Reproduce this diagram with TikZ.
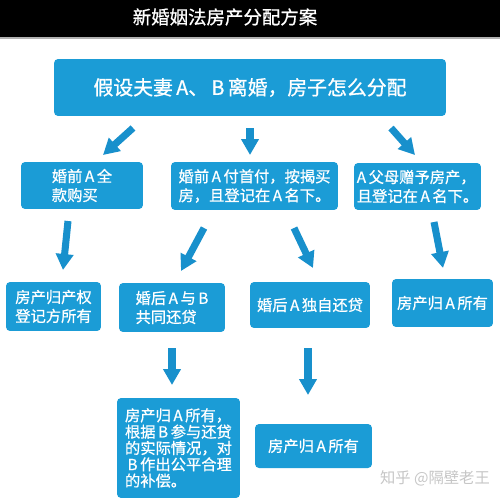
\documentclass[tikz,border=0pt]{standalone}
\usepackage{fontspec}
\newfontfamily\cjk{Noto Sans CJK SC}
\newfontfamily\cjkb[FakeBold=0.8]{Noto Sans CJK SC}
\usetikzlibrary{arrows.meta}
\definecolor{boxblue}{RGB}{27,156,214}
\definecolor{arrblue}{RGB}{24,144,204}
\begin{document}
\begin{tikzpicture}[x=0.02cm,y=-0.02cm,
 box/.style={fill=boxblue, rounded corners=2.3pt, text=white, font=\cjkb\fontsize{8.7}{10.8}\selectfont, inner sep=0pt, align=left},
 arr/.style={draw=arrblue, line width=4pt, -{Triangle[length=0.32cm,width=0.34cm]}}]
\useasboundingbox (0,0) rectangle (500,500);
\fill[white] (0,0) rectangle (500,500);
\fill[black] (0,0) rectangle (500,37);
\draw[gray!60, line width=0.6pt] (0,38) -- (500,38);
\node[text=white, font=\cjkb\fontsize{10.5}{12}\selectfont] (title) at (225,17) {新婚姻法房产分配方案};

\node[box, font=\cjkb\fontsize{11.3}{13}\selectfont, minimum width=7.84cm, minimum height=1.14cm] (main) at (250,87.5) {假设夫妻\,A、\,B\,离婚，房子怎么分配};

\node[box, minimum width=2.44cm, minimum height=0.94cm] (b1) at (82,185.5) {婚前\,A\,全\\款购买};
\node[box, minimum width=3.34cm, minimum height=0.96cm] (b2) at (254.5,186) {婚前\,A\,付首付，按揭买\\房，且登记在\,A\,名下。};
\node[box, minimum width=2.54cm, minimum height=0.94cm] (b3) at (417.5,186.5) {A\,父母赠予房产，\\且登记在\,A\,名下。};

\node[box, align=center, minimum width=1.90cm, minimum height=0.98cm] (b4) at (53.5,306.5) {房产归产权\\登记方所有};
\node[box, minimum width=2.12cm, minimum height=0.98cm] (b5) at (172,307.5) {婚后\,A\,与\,B\\共同还贷};
\node[box, minimum width=2.40cm, minimum height=0.92cm] (b6) at (310,305) {婚后\,A\,独自还贷};
\node[box, minimum width=2.02cm, minimum height=0.96cm] (b7) at (442.5,303) {房产归\,A\,所有};

\node[box, font=\cjkb\fontsize{8.7}{9.3}\selectfont, minimum width=2.46cm, minimum height=2.00cm] (b8) at (178.5,448) {房产归\,A\,所有，\\根据\,B\,参与还贷\\的实际情况，对\\\,B\,作出公平合理\\的补偿。};
\node[box, minimum width=2.34cm, minimum height=0.88cm] (b9) at (313.5,446) {房产归\,A\,所有};

\node[text=gray!45, font=\cjk\fontsize{8.7}{10}\selectfont] (wm) at (435,478) {知乎 @隔壁老王};

\coordinate (s1) at (133,128); \coordinate (e1) at (103,155);
\coordinate (s2) at (250,128); \coordinate (e2) at (250,155);
\coordinate (s3) at (391,128); \coordinate (e3) at (415,155);
\coordinate (s4) at (68,221);  \coordinate (e4) at (63,270);
\coordinate (s5) at (204,228); \coordinate (e5) at (181,271);
\coordinate (s6) at (294,228); \coordinate (e6) at (313,268);
\coordinate (s7) at (434,222); \coordinate (e7) at (443,268);
\coordinate (s8) at (172,348); \coordinate (e8) at (172,385);
\coordinate (s9) at (308,348); \coordinate (e9) at (308,395);
\foreach \i in {1,...,9} {\draw[arr] (s\i) -- (e\i);}
\end{tikzpicture}
\end{document}
